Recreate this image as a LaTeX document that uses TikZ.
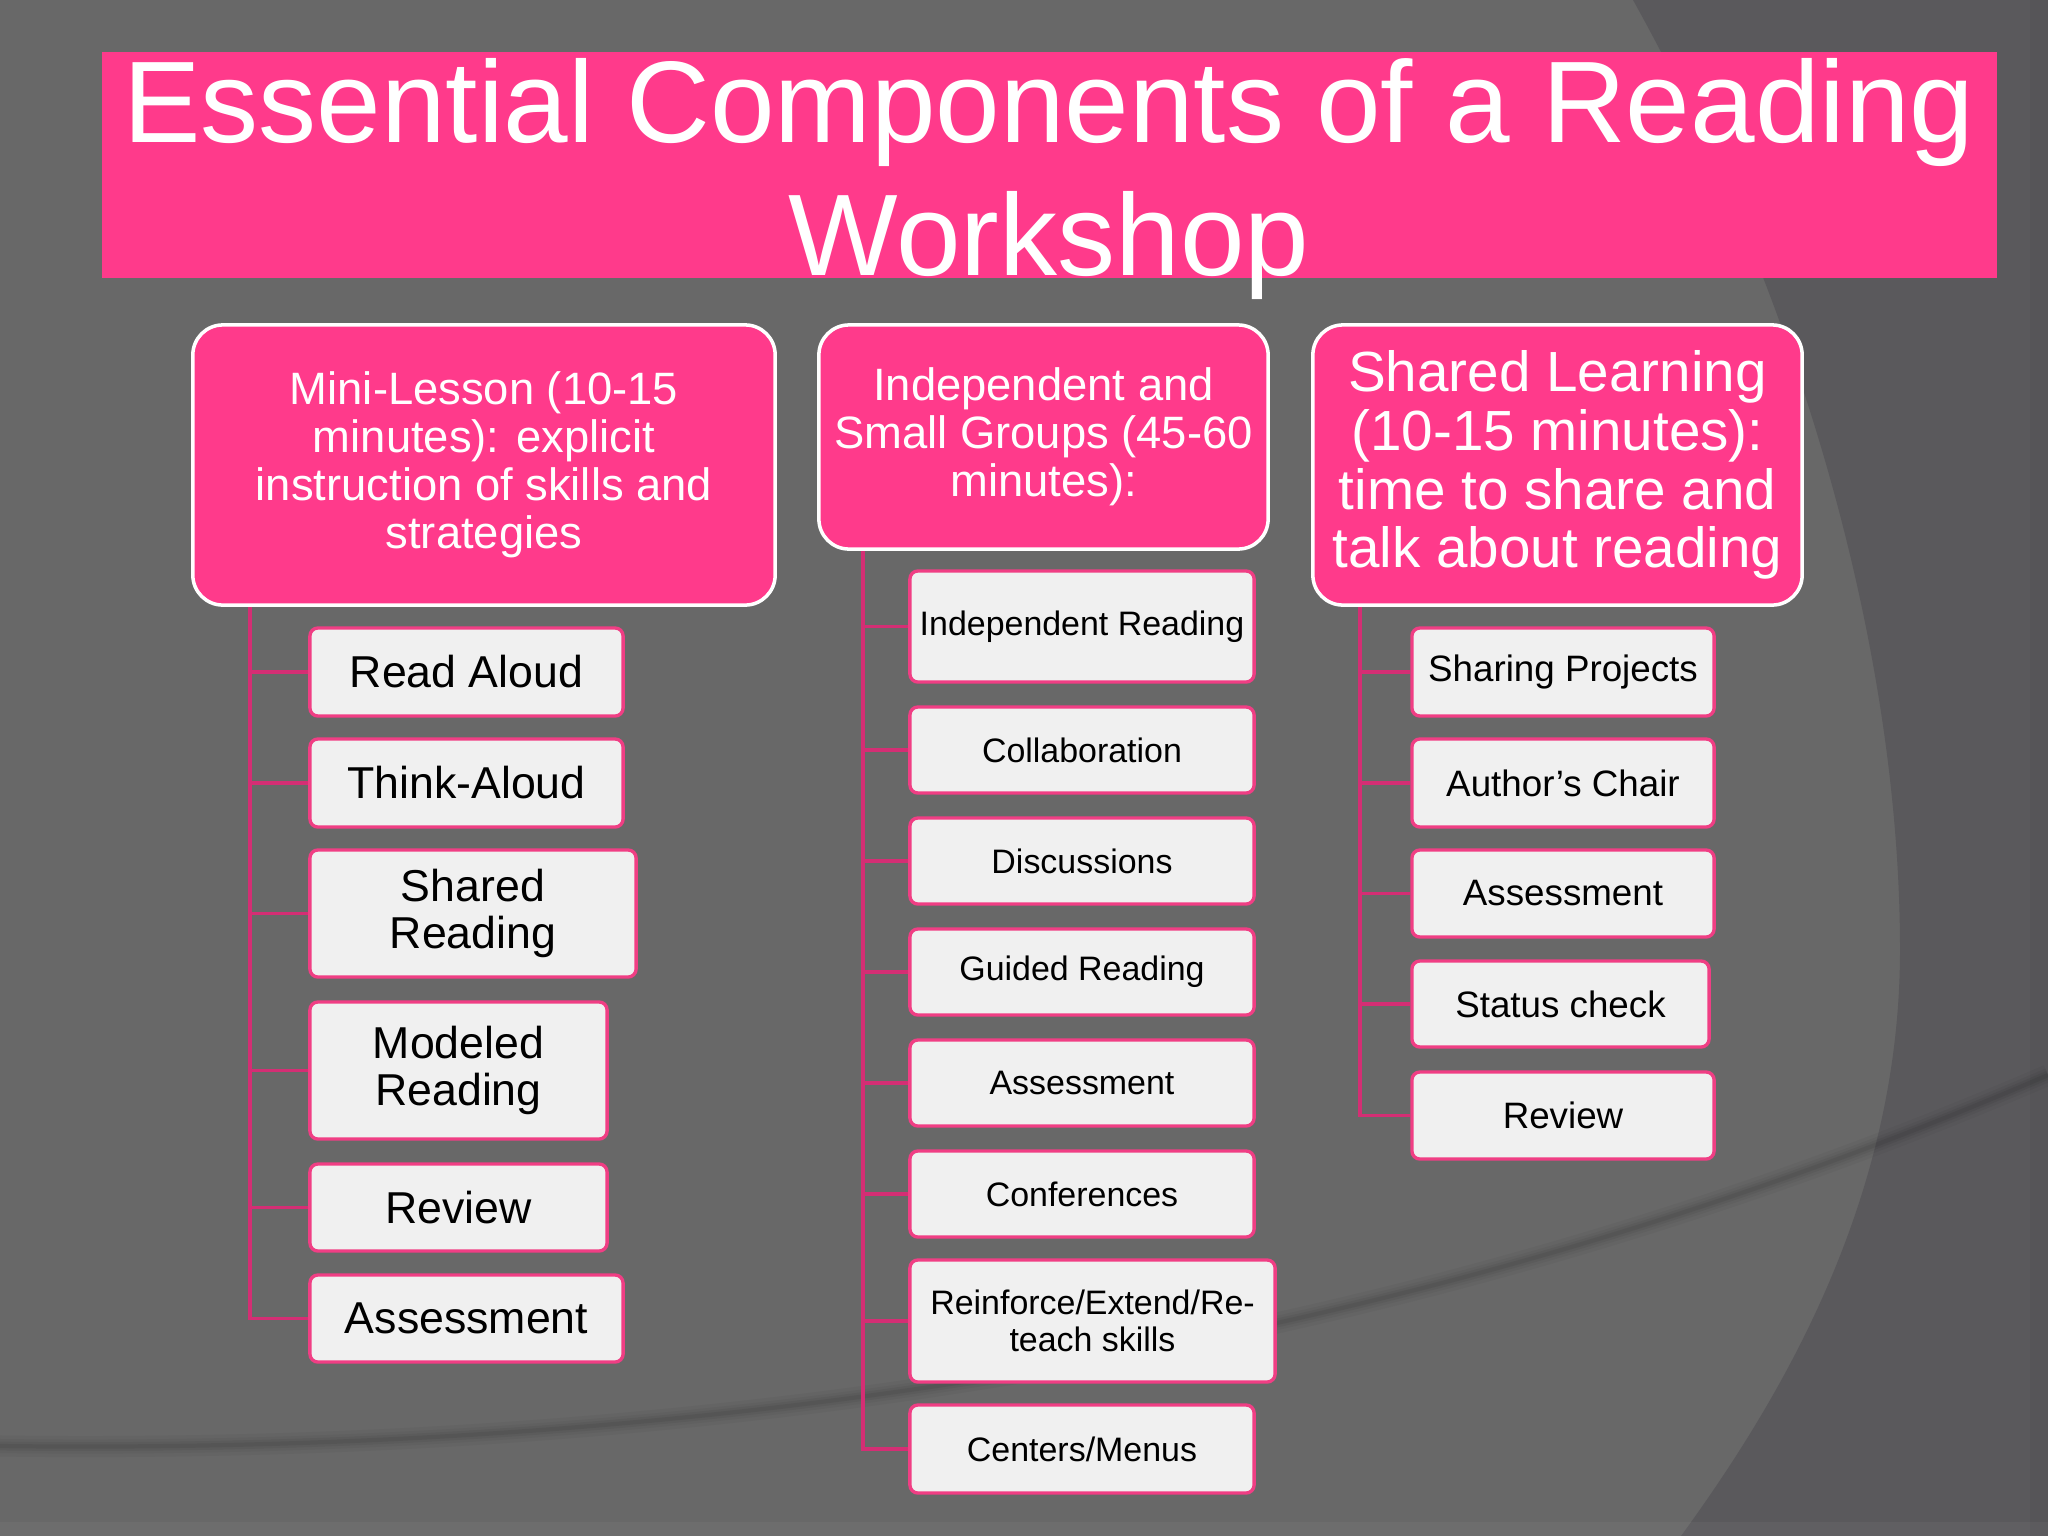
\documentclass[tikz,border=0pt]{standalone}
\usepackage{fontspec}
\setmainfont{Liberation Sans}
\definecolor{bggray}{RGB}{104,104,104}
\definecolor{bgdark}{RGB}{90,89,92}
\definecolor{hpink}{RGB}{255,58,139}
\definecolor{bpink}{RGB}{240,62,132}
\definecolor{lpink}{RGB}{212,46,116}
\definecolor{cfill}{RGB}{240,240,240}
\pgfdeclarelayer{bg}
\pgfsetlayers{bg,main}
\begin{document}
\begin{tikzpicture}[x=0.01cm,y=-0.01cm,
  head/.style={draw=white, line width=1pt, fill=hpink, rounded corners=0.3cm, text=white, align=center, inner sep=0pt},
  child/.style={draw=bpink, line width=0.95pt, fill=cfill, rounded corners=0.08cm, text=black, align=center, inner sep=0pt},
  conn/.style={draw=lpink, line width=0.95pt},
  fH/.style={font=\fontsize{12.9}{13.6}\selectfont},
  fS/.style={font=\fontsize{16.1}{16.7}\selectfont},
  fL/.style={font=\fontsize{12.7}{13.4}\selectfont},
  fM/.style={font=\fontsize{9.65}{10.4}\selectfont},
  fR/.style={font=\fontsize{10.45}{11}\selectfont},
  lbox/.style={child, fL},
  mbox/.style={child, fM, minimum width=3.44cm, minimum height=0.86cm},
  rbox/.style={child, fR, minimum width=3.02cm, minimum height=0.87cm}
]
\useasboundingbox (0,0) rectangle (2048,1536);

% title banner
\fill[hpink] (102,52) rectangle (1997,278);
\node[anchor=north, text=white, align=center, inner sep=0pt, font=\fontsize{33}{37.8}\selectfont] (title) at (1049,58)
  {Essential Components of a Reading\\Workshop};

% headers
\node[head, fH, minimum width=5.82cm, minimum height=2.80cm] (mini) at (484,465)
  {Mini-Lesson (10-15\\minutes): explicit\\instruction of skills and\\strategies};
\node[head, fH, minimum width=4.49cm, minimum height=2.24cm] (indep) at (1043.5,437)
  {Independent and\\Small Groups (45-60\\minutes):};
\node[head, fS, minimum width=4.89cm, minimum height=2.80cm] (shared) at (1557.5,465)
  {Shared Learning\\(10-15 minutes):\\time to share and\\talk about reading};

% left column
\node[lbox, minimum width=3.13cm, minimum height=0.88cm] (cL1) at (466.5,672) {Read Aloud};
\node[lbox, minimum width=3.13cm, minimum height=0.88cm] (cL2) at (466.5,783) {Think-Aloud};
\node[lbox, minimum width=3.26cm, minimum height=1.27cm] (cL3) at (473,913.5) {Shared\\Reading};
\node[lbox, minimum width=2.97cm, minimum height=1.37cm] (cL4) at (458.5,1070.5) {Modeled\\Reading};
\node[lbox, minimum width=2.97cm, minimum height=0.87cm] (cL5) at (458.5,1207.5) {Review};
\node[lbox, minimum width=3.13cm, minimum height=0.87cm] (cL6) at (466.5,1318.5) {Assessment};

% middle column
\node[mbox, minimum height=1.11cm] (cM1) at (1082,626.5) {Independent Reading};
\node[mbox] (cM2) at (1082,750) {Collaboration};
\node[mbox] (cM3) at (1082,861) {Discussions};
\node[mbox] (cM4) at (1082,972) {Guided Reading};
\node[mbox] (cM5) at (1082,1083) {Assessment};
\node[mbox] (cM6) at (1082,1194) {Conferences};
\node[mbox, minimum width=3.65cm, minimum height=1.22cm] (cM7) at (1092.5,1321) {Reinforce/Extend/Re-\\teach skills};
\node[mbox, minimum height=0.88cm] (cM8) at (1082,1449) {Centers/Menus};

% right column
\node[rbox, minimum height=0.88cm] (cR1) at (1563,672) {Sharing Projects};
\node[rbox, minimum height=0.88cm] (cR2) at (1563,783) {Author’s Chair};
\node[rbox] (cR3) at (1563,893.5) {Assessment};
\node[rbox, minimum width=2.97cm, minimum height=0.86cm] (cR4) at (1560.5,1004) {Status check};
\node[rbox] (cR5) at (1563,1115.5) {Review};

\begin{pgfonlayer}{bg}
  \fill[bggray] (0,0) rectangle (2048,1536);
  \fill[bgdark] (1633,0) .. controls (1800,300) and (1900,650) .. (1900,950)
     .. controls (1900,1200) and (1780,1400) .. (1681,1536) -- (2048,1536) -- (2048,0) -- cycle;
  \fill[black, opacity=0.04] (2030,0) rectangle (2048,1536);
  \foreach \w/\o in {6pt/0.03,4pt/0.04,2.5pt/0.05,1.2pt/0.06}
    \draw[line width=\w, black, opacity=\o] (0,1446) .. controls (700,1455) and (1400,1355) .. (2048,1075);
  \fill[white, opacity=0.04] (0,1522) rectangle (2048,1536);
  % connectors
  \foreach \c in {cL1,cL2,cL3,cL4,cL5,cL6}
    \draw[conn] ([xshift=0.59cm]mini.south west) |- (\c.west);
  \foreach \c in {cM1,cM2,cM3,cM4,cM5,cM6,cM7,cM8}
    \draw[conn] ([xshift=0.46cm]indep.south west) |- (\c.west);
  \foreach \c in {cR1,cR2,cR3,cR4,cR5}
    \draw[conn] ([xshift=0.49cm]shared.south west) |- (\c.west);
\end{pgfonlayer}
\end{tikzpicture}
\end{document}
